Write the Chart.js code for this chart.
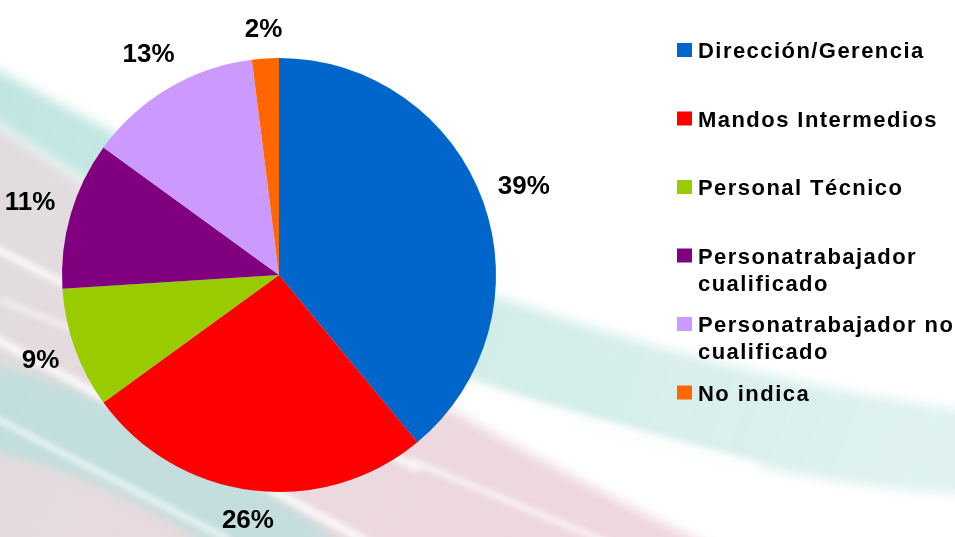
<!DOCTYPE html>
<html>
<head>
<meta charset="utf-8">
<script src="https://cdn.jsdelivr.net/npm/chart.js@4.4.0/dist/chart.umd.min.js"></script>
<style>
  html, body { margin: 0; padding: 0; background: #fff; }
  #wrap { width: 955px; height: 537px; }
</style>
</head>
<body>
<div id="wrap"><canvas id="myChart" width="955" height="537"></canvas></div>
<script>
// categorias y porcentajes
var categorias = ['Dirección/Gerencia', 'Mandos Intermedios', 'Personal Técnico',
    'Personatrabajador cualificado', 'Personatrabajador no cualificado', 'No indica'];
var porcentajes = [39, 26, 9, 11, 13, 2];
var colores = ['#0066CC', '#FF0000', '#99CC00', '#800080', '#CC99FF', '#FF6600'];

// fondo con las franjas diagonales
var fondo = {
    id: 'fondo',
    beforeDraw: function (chart) {
        var ctx = chart.ctx;
        ctx.save();
        ctx.fillStyle = '#fff';
        ctx.fillRect(0, 0, chart.width, chart.height);
        ctx.filter = 'blur(6px)';

        // franja rosada / gris
        var g1 = ctx.createLinearGradient(0, 150, 700, 537);
        g1.addColorStop(0, 'rgba(185,178,182,0.45)');
        g1.addColorStop(0.5, 'rgba(210,172,184,0.45)');
        g1.addColorStop(1, 'rgba(225,175,190,0.5)');
        ctx.fillStyle = g1;
        ctx.beginPath();
        ctx.moveTo(-20, 115);
        ctx.quadraticCurveTo(400, 400, 740, 560);
        ctx.lineTo(-20, 560);
        ctx.closePath();
        ctx.fill();

        // franja turquesa de arriba
        var g2 = ctx.createLinearGradient(0, 100, 955, 460);
        g2.addColorStop(0, 'rgba(150,212,206,0.6)');
        g2.addColorStop(0.6, 'rgba(170,220,214,0.5)');
        g2.addColorStop(1, 'rgba(185,226,222,0.45)');
        ctx.fillStyle = g2;
        ctx.beginPath();
        ctx.moveTo(-20, 60);
        ctx.quadraticCurveTo(482, 345, 975, 412);
        ctx.lineTo(975, 495);
        ctx.quadraticCurveTo(500, 470, -20, 110);
        ctx.closePath();
        ctx.fill();

        // turquesa abajo a la izquierda
        ctx.fillStyle = 'rgba(175,225,220,0.65)';
        ctx.beginPath();
        ctx.moveTo(-20, 360);
        ctx.quadraticCurveTo(200, 420, 360, 560);
        ctx.lineTo(230, 560);
        ctx.quadraticCurveTo(100, 470, -20, 450);
        ctx.closePath();
        ctx.fill();

        // brillos blancos
        ctx.filter = 'blur(3px)';
        ctx.strokeStyle = 'rgba(255,255,255,0.85)';
        var brillos = [[-20, 240, 420, 470, 7], [-20, 330, 400, 560, 8], [-20, 410, 230, 540, 5],
            [410, 460, 650, 560, 5], [0, 300, 250, 400, 4], [430, 380, 760, 470, 14]];
        brillos.forEach(function (b) {
            ctx.lineWidth = b[4];
            ctx.beginPath();
            ctx.moveTo(b[0], b[1]);
            ctx.lineTo(b[2], b[3]);
            ctx.stroke();
        });
        ctx.restore();
    }
};

// etiquetas de porcentaje fuera del circulo
var etiquetas = {
    id: 'etiquetas',
    afterDatasetsDraw: function (chart) {
        var ctx = chart.ctx;
        var meta = chart.getDatasetMeta(0);
        ctx.save();
        ctx.font = 'bold 26px "Liberation Sans", Arial, sans-serif';
        ctx.fillStyle = '#000';
        ctx.textAlign = 'center';
        ctx.textBaseline = 'middle';
        meta.data.forEach(function (arc, i) {
            var txt = porcentajes[i] + '%';
            var a = (arc.startAngle + arc.endAngle) / 2;
            var c = Math.cos(a), s = Math.sin(a);
            var w = ctx.measureText(txt).width;
            // distancia desde el borde hasta el centro del texto
            var d = Math.abs(c) * w / 2 + Math.abs(s) * 14;
            var r = arc.outerRadius + 14 + d;
            ctx.fillText(txt, arc.x + c * r, arc.y + s * r);
        });
        ctx.restore();
    }
};

// leyenda a la derecha, con lineas partidas
var leyenda = {
    id: 'leyenda',
    afterDraw: function (chart) {
        var ctx = chart.ctx;
        ctx.save();
        ctx.font = 'bold 22px "Liberation Sans", Arial, sans-serif';
        ctx.letterSpacing = '1.45px';
        ctx.textBaseline = 'alphabetic';
        ctx.textAlign = 'left';
        var x = 698, y0 = 58, paso = 68.5, maxAncho = 262;
        categorias.forEach(function (txt, i) {
            var y = y0 + i * paso;
            ctx.fillStyle = colores[i];
            ctx.fillRect(677, y - 15, 15, 14);
            ctx.fillStyle = '#000';
            var palabras = txt.split(' '), linea = '', lineas = [];
            palabras.forEach(function (p) {
                var prueba = linea ? linea + ' ' + p : p;
                if (linea && ctx.measureText(prueba).width > maxAncho) {
                    lineas.push(linea);
                    linea = p;
                } else {
                    linea = prueba;
                }
            });
            lineas.push(linea);
            lineas.forEach(function (l, j) {
                ctx.fillText(l, x, y + j * 27);
            });
        });
        ctx.restore();
    }
};

var ctx = document.getElementById('myChart').getContext('2d');

new Chart(ctx, {
    type: 'pie',
    data: {
        labels: categorias,
        datasets: [{
            data: porcentajes,
            backgroundColor: colores,
            borderWidth: 0
        }]
    },
    options: {
        responsive: false,
        animation: false,
        layout: { padding: { left: 62, right: 459, top: 58, bottom: 45 } },
        plugins: {
            legend: { display: false },
            tooltip: { enabled: false }
        }
    },
    plugins: [fondo, etiquetas, leyenda]
});
</script>
</body>
</html>
